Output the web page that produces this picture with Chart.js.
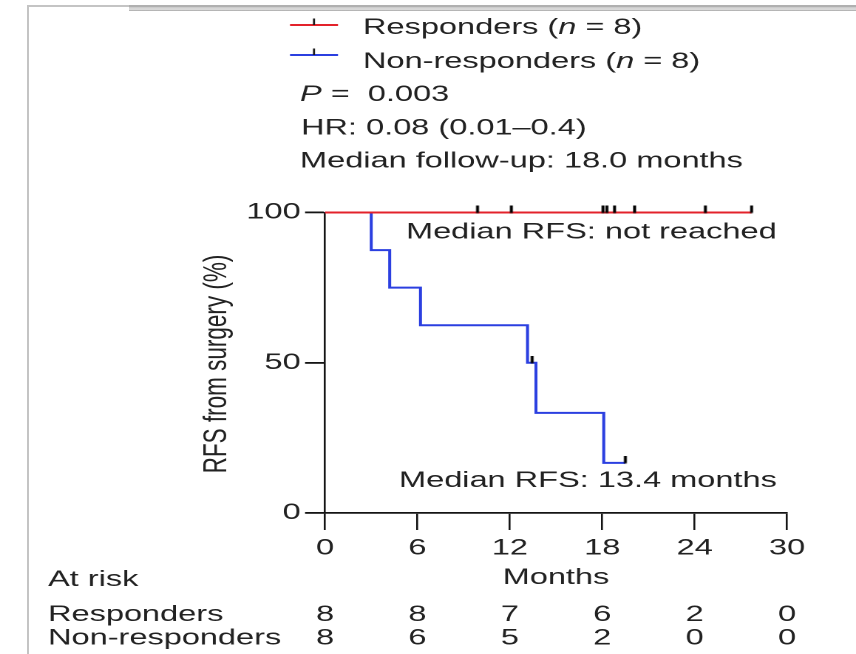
<!DOCTYPE html>
<html><head><meta charset="utf-8">
<script src="https://cdn.jsdelivr.net/npm/chart.js@4/dist/chart.umd.min.js"></script>
<style>
html,body{margin:0;padding:0;background:#fff;width:856px;height:654px;overflow:hidden;}
#wrap{position:absolute;left:0;top:0;width:579px;height:654px;transform:scaleX(1.47841);transform-origin:0 0;}
#frameL{position:absolute;left:27px;top:5px;width:2px;height:649px;background:#c4c4c4;}
#frameT{position:absolute;left:27px;top:5px;width:829px;height:2px;background:#c4c4c4;}
#bar{position:absolute;left:129px;top:5px;width:727px;height:6px;background:linear-gradient(#b0b0b0 0,#b0b0b0 30%,#d4d4d4 45%,#d8d8d8 75%,#a4a4a4 100%);}
</style></head><body>
<div id="wrap"><canvas id="c" width="579" height="654"></canvas></div>
<div id="frameL"></div><div id="frameT"></div><div id="bar"></div>
<script>
// ---- data ----
const monthTicks = [0, 6, 12, 18, 24, 30];
const riskResponders = [8, 8, 7, 6, 2, 0];
const riskNonResponders = [8, 6, 5, 2, 0, 0];
const respTimes = [0, 27.7];
const respSurv = [100, 100];
const respCensorTimes = [9.9, 12.1, 18.05, 18.3, 18.8, 20.1, 24.7, 27.7];
const respCensorSurv = [100, 100, 100, 100, 100, 100, 100, 100];
const nonTimes = [0, 3.0, 4.2, 6.2, 13.15, 13.7, 18.1, 19.5];
const nonSurv = [100, 87.5, 75, 62.5, 50, 33.3, 16.7, 16.7];
const nonCensorTimes = [13.45, 19.5];
const nonCensorSurv = [50, 16.7];
const legendLabels = ['Responders', 'Non-responders'];
const groupN = [8, 8];
const statLines = ['0.003', 'HR: 0.08 (0.01\u20130.4)', 'Median follow-up: 18.0 months'];
const medianTexts = ['Median RFS: not reached', 'Median RFS: 13.4 months'];

// ---- style ----
const S = 856 / 579;
const FONT = "'Liberation Sans', Arial, sans-serif";
const TXT = '#222222';
const RED = '#e3222b';
const BLUE = '#2b3fe0';
const AX = '#141414';
const rx = v => v / S;

function tickImg() {
  const c = document.createElement('canvas');
  c.width = 6; c.height = 14;
  const g = c.getContext('2d');
  g.strokeStyle = '#000'; g.lineWidth = 2;
  g.beginPath(); g.moveTo(3, 0); g.lineTo(3, 7.5); g.stroke();
  return c;
}
const TICK = tickImg();
const pts = (xs, ys) => xs.map((t, i) => ({x: t, y: ys[i]}));

function rich(ctx, parts, x, y) {
  let cx = x;
  for (const [t, it] of parts) {
    ctx.font = (it ? 'italic ' : '') + '22px ' + FONT;
    ctx.fillText(t, cx, y);
    cx += ctx.measureText(t).width;
  }
}

const textPlugin = {
  id: 'texts',
  afterDraw(chart) {
    const ctx = chart.ctx;
    const xs = chart.scales.x;
    ctx.save();
    ctx.fillStyle = TXT;
    ctx.textBaseline = 'alphabetic';
    ctx.textAlign = 'left';
    // legend
    const cols = [RED, BLUE];
    const ly = [25, 55];
    const ty = [34, 68];
    for (let i = 0; i < 2; i++) {
      ctx.strokeStyle = cols[i]; ctx.lineWidth = 2;
      ctx.beginPath(); ctx.moveTo(rx(290), ly[i]); ctx.lineTo(rx(338), ly[i]); ctx.stroke();
      ctx.strokeStyle = '#1a1a1a'; ctx.lineWidth = 1.4;
      ctx.beginPath(); ctx.moveTo(rx(314), ly[i] - 6.5); ctx.lineTo(rx(314), ly[i]); ctx.stroke();
      rich(ctx, [[legendLabels[i] + ' (', false], ['n', true], [' = ' + groupN[i] + ')', false]], rx(363), ty[i]);
    }
    // stats
    rich(ctx, [['P', true], [' =  ' + statLines[0], false]], rx(300), 101);
    rich(ctx, [[statLines[1], false]], rx(301), 134.5);
    rich(ctx, [[statLines[2], false]], rx(300), 167.5);
    // median annotations
    rich(ctx, [[medianTexts[0], false]], rx(406), 238.5);
    rich(ctx, [[medianTexts[1], false]], rx(399), 487);
    // y title
    ctx.save();
    ctx.font = '22.5px ' + FONT;
    ctx.translate(rx(226), 364);
    ctx.rotate(-Math.PI / 2);
    ctx.textAlign = 'center';
    ctx.fillText('RFS from surgery (%)', 0, 0);
    ctx.restore();
    // at risk table
    ctx.font = '22px ' + FONT;
    ctx.fillText('At risk', rx(48), 586);
    ctx.fillText('Responders', rx(48), 621);
    ctx.fillText('Non-responders', rx(48), 644.5);
    ctx.textAlign = 'center';
    monthTicks.forEach((m, i) => {
      const px = xs.getPixelForValue(m);
      ctx.fillText(String(riskResponders[i]), px, 621);
      ctx.fillText(String(riskNonResponders[i]), px, 644.5);
    });
    ctx.restore();
  }
};

new Chart(document.getElementById('c'), {
  type: 'line',
  data: {
    datasets: [
      {type: 'scatter', data: pts(respCensorTimes, respCensorSurv), pointStyle: TICK, pointRadius: 4, showLine: false, clip: false},
      {type: 'scatter', data: pts(nonCensorTimes, nonCensorSurv), pointStyle: TICK, pointRadius: 4, showLine: false, clip: false},
      {label: 'Responders', data: pts(respTimes, respSurv), borderColor: RED, borderWidth: 2, stepped: 'before', pointRadius: 0, fill: false, clip: false},
      {label: 'Non-responders', data: pts(nonTimes, nonSurv), borderColor: BLUE, borderWidth: 2, stepped: 'before', pointRadius: 0, fill: false, clip: false}
    ]
  },
  options: {
    responsive: false,
    devicePixelRatio: 2,
    animation: false,
    events: [],
    layout: {padding: {left: 0, top: 212.5, right: 579 - rx(787), bottom: 61}},
    plugins: {legend: {display: false}, tooltip: {enabled: false}},
    scales: {
      x: {
        type: 'linear', min: 0, max: 30,
        ticks: {stepSize: 6, font: {family: FONT, size: 22}, color: TXT, padding: 5, maxRotation: 0, autoSkip: false},
        grid: {display: true, drawOnChartArea: false, drawTicks: true, tickLength: 17, color: AX, lineWidth: 1.3},
        border: {display: true, color: AX, width: 1.8},
        title: {display: true, text: 'Months', font: {family: FONT, size: 22}, color: TXT, padding: {top: 0, bottom: 2}},
        afterFit(s) { s.height = 80; }
      },
      y: {
        type: 'linear', min: 0, max: 100,
        ticks: {stepSize: 50, font: {family: FONT, size: 22}, color: TXT, padding: 3},
        grid: {display: true, drawOnChartArea: false, drawTicks: true, tickLength: 13.5, color: AX, lineWidth: 1.8},
        border: {display: true, color: AX, width: 1.3},
        afterFit(s) { s.width = rx(325); }
      }
    }
  },
  plugins: [textPlugin]
});
</script>
</body></html>
